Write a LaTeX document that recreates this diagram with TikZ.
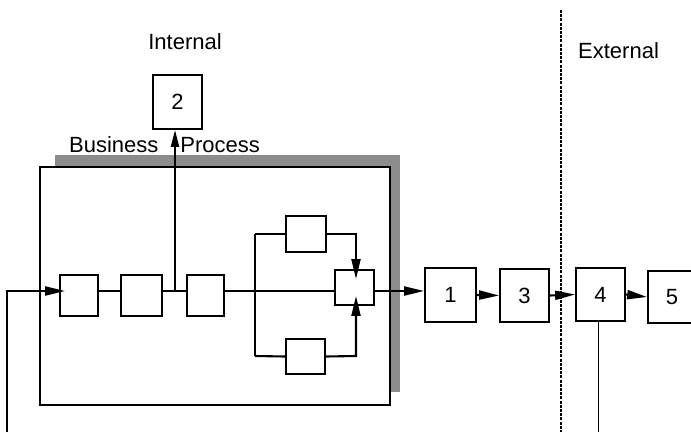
\documentclass[tikz,border=0pt]{standalone}
\usepackage{fontspec}
\setmainfont{Liberation Sans}
\usetikzlibrary{arrows.meta,calc}
\begin{document}
\begin{tikzpicture}[x=1pt,y=-1pt,
  box/.style={draw,line width=1.8pt,inner sep=0pt,fill=white},
  lbl/.style={font=\fontsize{22}{25}\selectfont,inner sep=0pt},
  flow/.style={line width=2.1pt},
  arr/.style={flow,-{Triangle[length=20pt,width=9pt]}}]
\useasboundingbox (0,0) rectangle (691,432);
% shadow and process box
\fill[black!45] (55,155) rectangle (400,392);
\node[box,minimum width=350pt,minimum height=238pt] (bp) at (215,286) {};
% boxes
\node[box,minimum width=38pt,minimum height=41pt] (A) at (79,295.5) {};
\node[box,minimum width=41pt,minimum height=41pt] (B) at (141.5,295.5) {};
\node[box,minimum width=37pt,minimum height=41pt] (C) at (205.5,295.5) {};
\node[box,minimum width=40pt,minimum height=36pt] (T) at (306,234) {};
\node[box,minimum width=39pt,minimum height=35pt] (D) at (305.5,356.5) {};
\node[box,minimum width=39pt,minimum height=35pt] (M) at (354.5,287.5) {};
\node[box,lbl,minimum width=49pt,minimum height=54pt] (b2) at (177.5,102) {2};
\node[box,lbl,minimum width=51pt,minimum height=54pt] (b1) at (450.5,295) {1};
\node[box,lbl,minimum width=49pt,minimum height=53pt] (b3) at (524.5,295.5) {3};
\node[box,lbl,minimum width=49pt,minimum height=53pt] (b4) at (600.5,294.5) {4};
\node[box,minimum width=54pt,minimum height=52pt] (b5) at (675,297) {};
\node[lbl] (t5) at (672,297) {5};
% labels
\node[lbl,anchor=base] (int) at (185,49) {Internal};
\node[lbl,anchor=base west] (ext) at (578,58) {External};
\node[lbl,anchor=base west] (bpl) at (69,152) {Business\hspace{22pt}Process};
% coordinates
\coordinate (in0) at (7,432);
\coordinate (in1) at (7,291);
\coordinate (j2) at (175,291);
\coordinate (fk) at (255,291);
\coordinate (fkt) at (255,234);
\coordinate (fkb) at (255,356);
\coordinate (tr) at (356,234);
\coordinate (br) at (356,356);
\coordinate (dtop) at (561,10);
\coordinate (dbot) at (561,432);
\coordinate (bot) at (0,432);
% flows
\draw[arr] (in0) -- (in1) -- ([xshift=6pt]A.west |- in1);
\draw[flow] (A.east |- in1) -- (B.west |- in1);
\draw[flow] (B.east |- in1) -- (C.west |- in1);
\draw[flow,-{Triangle[length=17pt,width=8pt]}] (j2) -- (b2.south -| j2);
\draw[flow] (C.east |- in1) -- (M.west |- in1);
\draw[flow] (fkt) -- (fkb);
\draw[flow] (fkt) -- (T.west);
\draw[flow] (fkb) -- (D.west);
\draw[arr,shorten >=-10pt] (T.east) -- (tr) -- (tr |- M.north);
\draw[arr,shorten >=-10pt] (D.east) -- (br) -- (br |- M.south);
\draw[arr] (M.east |- in1) -- (b1.west |- in1);
\draw[arr] (b1.east) -- (b3.west);
\draw[arr] (b3.east) -- (b4.west);
\draw[arr] (b4.east) -- (b5.west);
\draw[line width=1.7pt] ([xshift=-2pt]b4.south) -- ([xshift=-2pt]b4.south |- bot);
\draw[line width=1.8pt,dash pattern=on 3pt off 1.2pt] (dtop) -- (dbot);
\end{tikzpicture}
\end{document}
